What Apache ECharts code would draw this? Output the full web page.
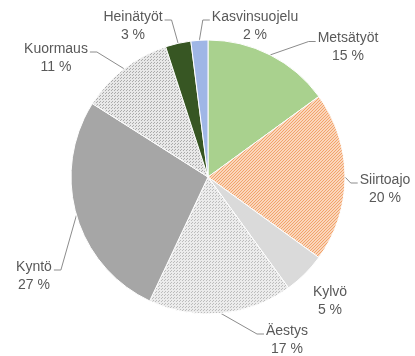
<!DOCTYPE html>
<html>
<head>
<meta charset="utf-8">
<script src="https://cdn.jsdelivr.net/npm/echarts@6/dist/echarts.min.js"></script>
<style>
  html, body { margin: 0; padding: 0; background: #ffffff; }
  #chart { width: 415px; height: 356px; }
</style>
</head>
<body>
<div id="chart"></div>
<script>
// Work types and their share of working time (%), clockwise from 12 o'clock
const categories = ['Metsätyöt', 'Siirtoajo', 'Kylvö', 'Äestys', 'Kyntö', 'Kuormaus', 'Heinätyöt', 'Kasvinsuojelu'];
const shares = [15, 20, 5, 17, 27, 11, 3, 2];

// Label block centres (x, y) and which side of the block the leader line meets
const labelAnchors = [
  [348, 47.5], [385, 189], [330, 301], [287, 340],
  [34, 276], [56, 58], [133, 26], [255, 26]
];
const leaderSide = ['left', 'left', 'none', 'left', 'right', 'right', 'right', 'left'];

const LABEL_FONT = 'Liberation Sans, Arial, sans-serif';
const LABEL_SIZE = 14;
const LABEL_LINE_H = 18;

function makePattern(bg, fg, drawFn, size) {
  const c = document.createElement('canvas');
  c.width = size; c.height = size;
  const ctx = c.getContext('2d');
  ctx.fillStyle = bg;
  ctx.fillRect(0, 0, size, size);
  ctx.fillStyle = fg;
  drawFn(ctx, size);
  return { image: c, repeat: 'repeat' };
}

// fine diagonal hatching
const hatchOrange = makePattern('#fad6bc', '#f2a36a', function (ctx, s) {
  for (let i = 0; i < s; i++) {
    ctx.fillRect(i, s - 1 - i, 1, 1);
  }
}, 3);

// small dotted grid patterns
const dotsLight = makePattern('#ececec', '#bcbcbc', function (ctx) {
  ctx.fillRect(0, 0, 1, 1);
  ctx.fillRect(2, 1, 1, 1);
}, 3);

const dotsGrey = makePattern('#e8e8e8', '#ababab', function (ctx) {
  ctx.fillRect(0, 0, 1, 1);
  ctx.fillRect(1, 2, 1, 1);
}, 3);

const sliceColors = [
  '#a9d18e',   // Metsätyöt
  hatchOrange, // Siirtoajo
  '#dadada',   // Kylvö
  dotsLight,   // Äestys
  '#a6a6a6',   // Kyntö
  dotsGrey,    // Kuormaus
  '#375623',   // Heinätyöt
  '#9fb6e6'    // Kasvinsuojelu
];

const seriesData = categories.map(function (name, i) {
  return {
    name: name,
    value: shares[i],
    itemStyle: { color: sliceColors[i] },
    labelLine: { show: leaderSide[i] !== 'none' }
  };
});

// width of the widest line of a label block
const measureCtx = document.createElement('canvas').getContext('2d');
measureCtx.font = LABEL_SIZE + 'px ' + LABEL_FONT;
function blockWidth(i) {
  const lines = [categories[i], shares[i] + ' %'];
  return Math.max.apply(null, lines.map(function (t) { return measureCtx.measureText(t).width; }));
}

const chart = echarts.init(document.getElementById('chart'), null, { renderer: 'canvas' });

chart.setOption({
  backgroundColor: '#ffffff',
  animation: false,
  series: [{
    type: 'pie',
    center: [208, 177],
    radius: 137,
    startAngle: 90,
    clockwise: true,
    data: seriesData,
    itemStyle: { borderColor: '#ffffff', borderWidth: 1 },
    label: {
      show: true,
      position: 'outside',
      formatter: '{b}\n{c} %',
      color: '#595959',
      fontFamily: LABEL_FONT,
      fontSize: LABEL_SIZE,
      lineHeight: LABEL_LINE_H,
      align: 'center',
      overflow: 'none'
    },
    labelLine: {
      show: true,
      length: 10,
      length2: 8,
      lineStyle: { color: '#8c8c8c', width: 1 }
    },
    labelLayout: function (params) {
      const i = params.dataIndex;
      const a = labelAnchors[i];
      const w = blockWidth(i);
      const h = LABEL_LINE_H * 2;
      const top = a[1] - h / 2;
      const res = { x: a[0], y: a[1], align: 'center', verticalAlign: 'middle' };
      const side = leaderSide[i];
      if (side !== 'none' && params.labelLinePoints) {
        const start = params.labelLinePoints[0];
        const ly = top + 12;
        let endX, elbowX;
        if (side === 'left') {
          endX = a[0] - w / 2 - 2;
          elbowX = endX - 7;
        } else {
          endX = a[0] + w / 2 + 2;
          elbowX = endX + 7;
        }
        res.labelLinePoints = [start, [elbowX, ly], [endX, ly]];
      }
      return res;
    }
  }]
});
</script>
</body>
</html>
